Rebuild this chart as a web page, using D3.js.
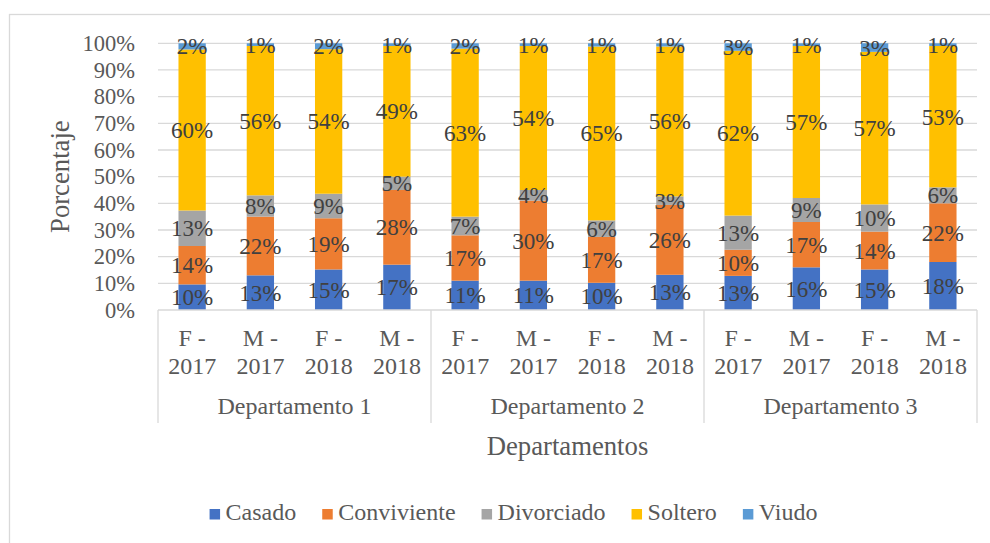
<!DOCTYPE html>
<html><head><meta charset="utf-8">
<script src="https://cdn.jsdelivr.net/npm/d3@7/dist/d3.min.js"></script>
<style>body{margin:0;background:#fff}svg{display:block}svg text{font-family:"Liberation Serif","Times New Roman",serif !important}</style>
</head><body><svg id="c" width="990" height="543"></svg>
<script>
const departments = ["Departamento 1","Departamento 2","Departamento 3"];
const subcats = [["F -","2017"],["M -","2017"],["F -","2018"],["M -","2018"]];
const seriesNames = ["Casado","Conviviente","Divorciado","Soltero","Viudo"];
const seriesColors = ["#4472C4","#ED7D31","#A5A5A5","#FFC000","#5B9BD5"];
// percentages per bar (order: D1 F17, D1 M17, D1 F18, D1 M18, D2 ..., D3 ...)
const casado      = [9.6, 13, 15.2, 17, 11, 11, 10.2, 13.2, 12.8, 16, 15.2, 18];
const conviviente = [14.4, 22, 19.2, 28, 17, 30, 17.2, 26.2, 9.8, 17, 14.2, 22];
const divorciado  = [13.3, 8, 9.2, 5, 7, 4, 6.2, 3.2, 12.8, 9, 10.2, 6];
const soltero     = [60.4, 56, 54.2, 49, 63, 54, 65.2, 56.2, 61.8, 57, 57.2, 53];
const viudo       = [2.3, 1, 2.2, 1, 2, 1, 1.2, 1.2, 2.8, 1, 3.2, 1];
const yTicks = [0,0.1,0.2,0.3,0.4,0.5,0.6,0.7,0.8,0.9,1];

const seriesArrays = [casado, conviviente, divorciado, soltero, viudo];
const rows = [];
departments.forEach((d,di)=>subcats.forEach((s,si)=>{
  const i = di*4+si; const r = {key:d+"|"+s.join(" "), dept:d, sub:s};
  seriesNames.forEach((n,k)=>r[n]=seriesArrays[k][i]);
  rows.push(r);
}));

const svg = d3.select("#c");
const L=158, R=977, T=43.3, B=310;
const FS_Y = 22.5, FS_X = 24, FS_LBL = 23, FS_LEG = 24, FS_TITLE = 26.7;
// outer border
svg.append("rect").attr("x",9.5).attr("y",14.5).attr("width",1100).attr("height",700)
  .attr("fill","none").attr("stroke","#d9d9d9").attr("stroke-width",1.3);

const x = d3.scaleBand().domain(rows.map(r=>r.key)).range([L,R]).paddingInner(0.6).paddingOuter(0.3);
const y = d3.scaleLinear().domain([0,1]).range([B,T]);

// gridlines
svg.append("g").selectAll("line").data(yTicks.slice(1)).join("line")
  .attr("x1",L).attr("x2",R).attr("y1",d=>y(d)).attr("y2",d=>y(d))
  .attr("stroke","#d9d9d9").attr("stroke-width",1.3);

const stack = d3.stack().keys(seriesNames).offset(d3.stackOffsetExpand);
const layers = stack(rows);
const g = svg.append("g");
layers.forEach((layer,k)=>{
  g.append("g").attr("fill",seriesColors[k]).selectAll("rect").data(layer).join("rect")
    .attr("x",d=>x(d.data.key)).attr("width",x.bandwidth())
    .attr("y",d=>y(d[1])).attr("height",d=>y(d[0])-y(d[1]));
});
const fmt = d3.format(".0%");
layers.forEach((layer,k)=>{
  g.append("g").selectAll("text").data(layer).join("text")
    .attr("x",d=>x(d.data.key)+x.bandwidth()/2)
    .attr("y",d=>(y(d[0])+y(d[1]))/2).attr("dy","0.35em")
    .attr("text-anchor","middle").attr("font-size",FS_LBL).attr("fill","#404040")
    .text(d=>fmt(d[1]-d[0]));
});

// y axis labels
const yAxis = d3.axisLeft(y).tickValues(yTicks).tickFormat(d3.format(".0%")).tickSize(0).tickPadding(23);
const ya = svg.append("g").attr("transform",`translate(${L},0)`).call(yAxis);
ya.select(".domain").remove();
ya.attr("font-family",null);
ya.selectAll("text").attr("font-size",FS_Y).attr("fill","#595959");

// x axis line
svg.append("line").attr("x1",L).attr("x2",R).attr("y1",B).attr("y2",B).attr("stroke","#d9d9d9").attr("stroke-width",1.3);
// group separators
const gx = d3.scaleBand().domain(departments).range([L,R]);
const seps = departments.map(d=>gx(d)).concat([R]);
svg.append("g").selectAll("line").data(seps).join("line")
  .attr("x1",d=>d).attr("x2",d=>d).attr("y1",B).attr("y2",423)
  .attr("stroke","#d9d9d9").attr("stroke-width",1.3);

// sub-category labels
const xt = svg.append("g").selectAll("text").data(rows).join("text")
  .attr("text-anchor","middle").attr("font-size",FS_X).attr("fill","#595959");
xt.append("tspan").attr("x",d=>x(d.key)+x.bandwidth()/2).attr("y",346).text(d=>d.sub[0]);
xt.append("tspan").attr("x",d=>x(d.key)+x.bandwidth()/2).attr("y",374).text(d=>d.sub[1]);
// department labels
svg.append("g").selectAll("text").data(departments).join("text")
  .attr("x",d=>gx(d)+gx.bandwidth()/2).attr("y",414).attr("text-anchor","middle")
  .attr("font-size",FS_X).attr("fill","#595959").text(d=>d);

// axis titles
svg.append("text").attr("x",(L+R)/2).attr("y",455).attr("text-anchor","middle")
  .attr("font-size",FS_TITLE).attr("fill","#595959").text("Departamentos");
svg.append("text").attr("transform",`translate(69,${(T+B)/2}) rotate(-90)`).attr("text-anchor","middle")
  .attr("font-size",FS_TITLE).attr("fill","#595959").text("Porcentaje");

// legend
const lg = svg.append("g");
let cx = 0;
seriesNames.forEach((n,k)=>{
  const it = lg.append("g");
  it.append("rect").attr("x",0).attr("y",-11).attr("width",10.5).attr("height",10.5).attr("fill",seriesColors[k]);
  const t = it.append("text").attr("x",16).attr("y",0).attr("font-size",FS_LEG).attr("fill","#595959").text(n);
  const w = 16 + t.node().getComputedTextLength();
  it.attr("transform",`translate(${cx},0)`);
  cx += w + 26;
});
const total = cx - 26;
lg.attr("transform",`translate(${513.5-total/2},520)`);
</script></body></html>
